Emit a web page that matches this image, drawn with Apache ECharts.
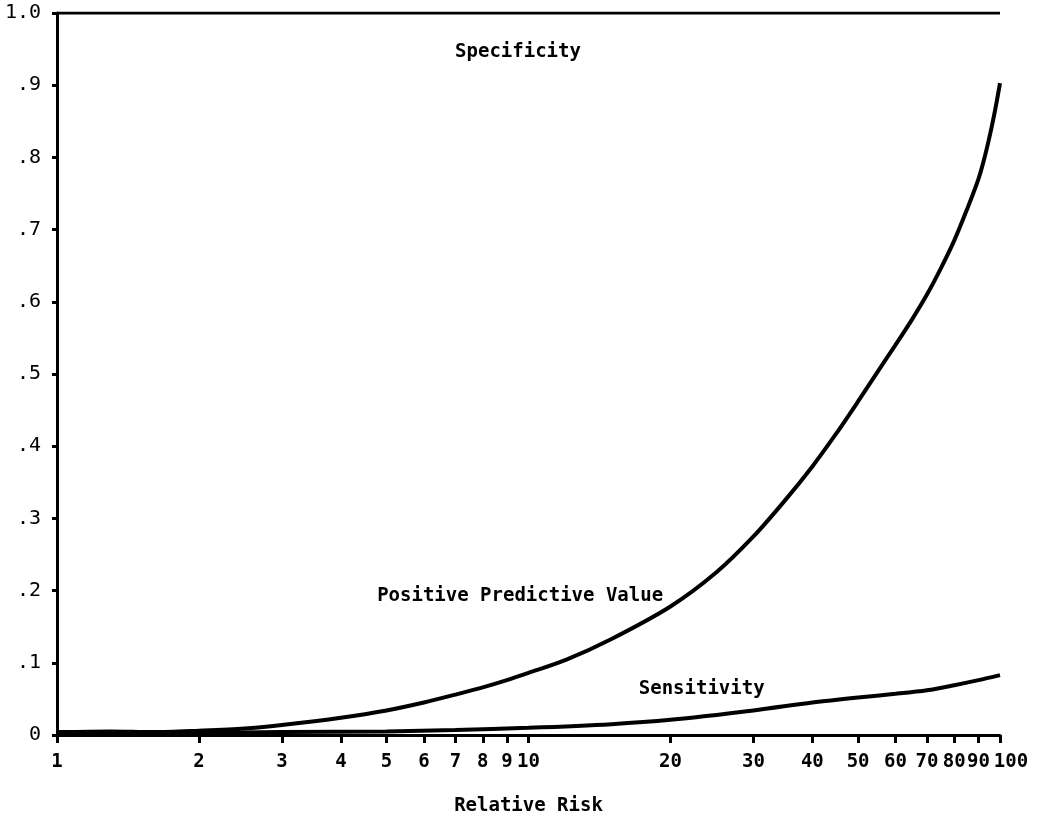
<!DOCTYPE html>
<html><head><meta charset="utf-8">
<script src="https://cdn.jsdelivr.net/npm/echarts@6/dist/echarts.min.js"></script>
<style>html,body{margin:0;padding:0;background:#fff}#c{width:1043px;height:821px}</style>
</head><body><div id="c"></div>
<script>
const xTickValues = [1,2,3,4,5,6,7,8,9,10,20,30,40,50,60,70,80,90,100];
const yTickValues = [0,0.1,0.2,0.3,0.4,0.5,0.6,0.7,0.8,0.9,1.0];
const ppvX = [1,1.3,1.6,2,2.5,3,4,5,6,7,8,9,10,12,15,20,25,30,35,40,45,50,55,60,65,70,75,80,85,90,93,96,98,100];
const ppvY = [0.004,0.005,0.004,0.006,0.009,0.014,0.024,0.034,0.045,0.056,0.066,0.076,0.086,0.104,0.133,0.178,0.225,0.275,0.325,0.372,0.418,0.462,0.503,0.54,0.575,0.61,0.647,0.685,0.727,0.77,0.803,0.842,0.871,0.903];
const sensX = [1,1.5,2,3,5,7,10,15,20,30,40,50,60,70,80,90,100];
const sensY = [0.004,0.003,0.003,0.004,0.005,0.007,0.01,0.015,0.021,0.034,0.045,0.052,0.057,0.062,0.069,0.076,0.083];
const specX = [1,100];
const specY = [1.0,1.0];
const seriesNames = ['Specificity','Positive Predictive Value','Sensitivity'];
const labelAnchors = [[9.5,0.946],[9.6,0.193],[23.3,0.064]];
const xAxisName = 'Relative Risk';

const zip = (a,b)=>a.map((v,i)=>[v,b[i]]);
const font = "'DejaVu Sans Mono', 'Liberation Mono', monospace";
const lineStyle = {color:'#000', width:4};
function mp(i){
  return {symbol:'circle', symbolSize:0, silent:true,
    data:[{coord:labelAnchors[i], value:seriesNames[i]}],
    label:{show:true, position:'inside', formatter:seriesNames[i], color:'#000', fontFamily:font, fontWeight:'bold', fontSize:19}};
}
const chart = echarts.init(document.getElementById('c'), null, {renderer:'canvas'});
chart.setOption({
  animation:false,
  backgroundColor:'#fff',
  grid:{left:57, right:43, top:13, bottom:84, containLabel:false},
  xAxis:{type:'log', logBase:10, min:1, max:100,
    name:xAxisName, nameLocation:'middle', nameGap:62,
    nameTextStyle:{color:'#000', fontFamily:font, fontWeight:'bold', fontSize:19},
    axisLine:{show:true, onZero:false, lineStyle:{color:'#000', width:3}},
    axisTick:{show:true, customValues:xTickValues, length:8, lineStyle:{color:'#000', width:3}},
    axisLabel:{customValues:xTickValues, showMaxLabel:true, showMinLabel:true, hideOverlap:false,
      color:'#000', fontFamily:font, fontWeight:'bold', fontSize:19, margin:18,
      formatter:v=>{const n=Math.round(v); return n===100 ? '{r|100}' : String(n);},
      rich:{r:{fontFamily:font, fontWeight:'bold', fontSize:19, color:'#000', padding:[0,0,0,22]}}},
    splitLine:{show:false}, minorTick:{show:false}},
  yAxis:{type:'value', min:0, max:1, interval:0.1,
    axisLine:{show:true, lineStyle:{color:'#000', width:3}},
    axisTick:{show:true, length:5, lineStyle:{color:'#000', width:3}},
    axisLabel:{color:'#000', fontFamily:font, fontSize:20, margin:16,
      formatter:v=>{ if(v===0) return '0'; if(Math.abs(v-1)<1e-9) return '1.0'; return '.'+Math.round(v*10);} },
    splitLine:{show:false}},
  series:[
    {name:seriesNames[0], type:'line', data:zip(specX,specY), symbol:'none', lineStyle:{color:'#000', width:3}, markPoint:mp(0), z:3},
    {name:seriesNames[1], type:'line', data:zip(ppvX,ppvY), symbol:'none', smooth:0.3, lineStyle, markPoint:mp(1)},
    {name:seriesNames[2], type:'line', data:zip(sensX,sensY), symbol:'none', smooth:0.3, lineStyle, markPoint:mp(2)}
  ]
});
</script></body></html>
